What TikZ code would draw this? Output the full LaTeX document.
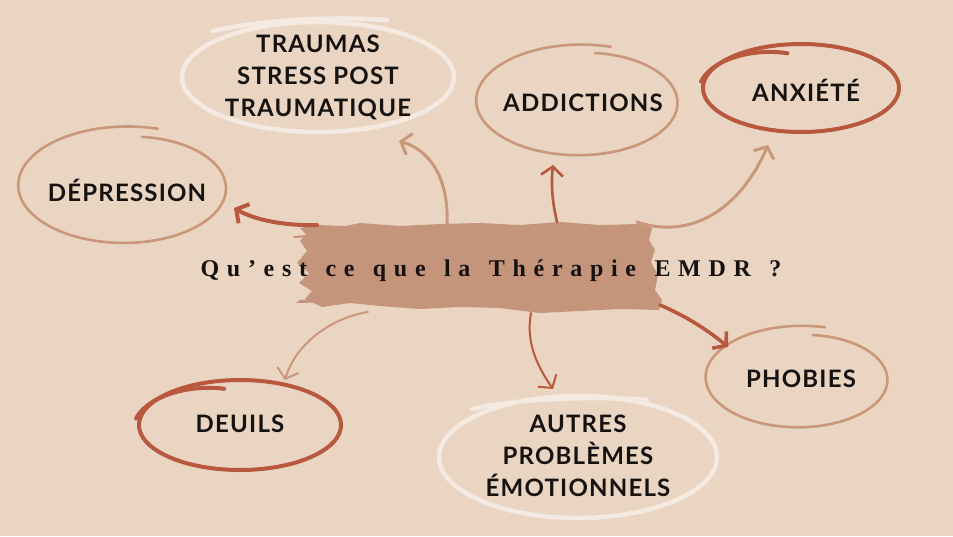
\documentclass[tikz,border=0pt]{standalone}
\usepackage{fontspec}
\setmainfont{Lato}
\newfontfamily\labelfont[LetterSpace=5]{Lato}
\newfontfamily\titlefont[LetterSpace=32, WordSpace=1.35, UprightFont={* Bold}]{Liberation Serif}
\usetikzlibrary{arrows.meta}
\definecolor{bg}{HTML}{EAD5C3}
\definecolor{brush}{HTML}{C4957A}
\definecolor{tan}{HTML}{C9977A}
\definecolor{rust}{HTML}{B8583E}
\definecolor{offw}{HTML}{F4EAE1}
\definecolor{ink}{HTML}{151210}
% cx cy rx ry start sweep devstart devend style
\newcommand\handoval[9]{%
  \draw[#9] plot[domain=0:1, samples=160, smooth, variable=\t]
  ({#1+#3*(1+(#7)*(1-\t)^3+(#8)*\t^3)*cos(#5+#6*\t)}, {#2+#4*(1+(#7)*(1-\t)^3+(#8)*\t^3)*sin(#5+#6*\t)});}
\tikzset{
  lbl/.style={font=\labelfont\bfseries\fontsize{24}{32}\selectfont, text=ink, align=center, inner sep=0pt},
  tanline/.style={draw=tan, line width=2.6pt, line cap=round},
  rustline/.style={draw=rust, line width=4pt, line cap=round},
  offline/.style={draw=offw, line width=4.5pt, line cap=round},
  arr/.style={-{Straight Barb[length=9pt,width=22pt]}, line cap=round, line join=round},
}
\begin{document}
\begin{tikzpicture}[x=1pt,y=-1pt]
\fill[bg] (0,0) rectangle (953,536);
\useasboundingbox (0,0) rectangle (953,536);
% brush
\fill[brush] (300,228) -- (318,225) -- (345,226) -- (360,223) -- (400,226) -- (440,224) -- (480,223) -- (520,225) -- (560,222) -- (600,225) -- (640,224) -- (652,228) -- (649,240) -- (655,250) -- (651,262) -- (658,275) -- (655,290) -- (662,300) -- (659,310) -- (620,309) -- (580,311) -- (540,313) -- (500,308) -- (460,307) -- (420,309) -- (380,306) -- (350,303) -- (322,307) -- (305,299) -- (312,291) -- (299,283) -- (309,273) -- (297,263) -- (307,251) -- (300,241) -- (306,234) -- cycle;
\fill[brush] (300,300) -- (340,298) -- (340,302) -- (296,303) -- cycle;
\fill[brush] (294,236) -- (320,234) -- (320,237) -- (293,238) -- cycle;
% ovals
\handoval{318}{77}{136}{55}{0}{360}{0}{0}{offline}
\draw[offline] (213,31) .. controls (260,20) and (330,16) .. (387,20);
\handoval{126}{186}{107}{58}{-80}{367}{-0.14}{0.03}{tanline}
\handoval{580}{101}{103}{55}{-80.5}{367.5}{-0.115}{0.03}{tanline}
\handoval{801}{88}{98}{44}{0}{360}{0}{0}{rustline}
\handoval{801}{88}{98}{44}{-100}{-72}{-0.2}{0.03}{rustline}
\handoval{240}{425}{101}{45}{0}{360}{0}{0}{rustline}
\handoval{240}{425}{101}{45}{-101}{-71}{-0.18}{0.04}{rustline}
\handoval{578}{457}{139}{61}{0}{360}{0}{0}{offline}
\draw[offline] (472,409) .. controls (520,398) and (600,396) .. (647,400);
\handoval{800}{378}{93}{50}{-81}{366}{-0.13}{0.05}{tanline}
% labels
\node[lbl] (trau) at (318,77) {TRAUMAS\\STRESS POST\\TRAUMATIQUE};
\node[lbl] (dep) at (127,190) {DÉPRESSION};
\node[lbl] (add) at (583,103) {ADDICTIONS};
\node[lbl] (anx) at (806,90) {ANXIÉTÉ};
\node[lbl] (deu) at (240,424) {DEUILS};
\node[lbl] (aut) at (578,456) {AUTRES\\PROBLÈMES\\ÉMOTIONNELS};
\node[lbl] (pho) at (801,379) {PHOBIES};
\node[font=\titlefont\fontsize{24}{28}\selectfont, text=ink, inner sep=0pt] (title) at (491,271) {Qu’est ce que la Thérapie EMDR ?};
% connector endpoints
\coordinate (s1) at (317,225); \coordinate (e1) at (234,208);
\coordinate (s2) at (447,226); \coordinate (e2) at (399,141);
\coordinate (s3) at (557,222); \coordinate (e3) at (553,165);
\coordinate (s4) at (637,222); \coordinate (e4) at (768,145);
\coordinate (s5) at (660,305); \coordinate (e5) at (728,347);
\coordinate (s6) at (531,313); \coordinate (e6) at (553,389);
\coordinate (s7) at (368,312); \coordinate (e7) at (285,380);
\draw[arr, draw=rust, line width=4pt] (s1) .. controls (285,226) and (255,220) .. (e1);
\draw[arr, draw=tan, line width=3pt] (s2) .. controls (449,185) and (435,152) .. (e2);
\draw[arr, draw=rust, line width=2.6pt] (s3) .. controls (552,200) and (551,185) .. (e3);
\draw[arr, draw=tan, line width=3pt] (s4) .. controls (690,240) and (740,210) .. (e4);
\draw[arr, draw=rust, line width=3.6pt] (s5) .. controls (690,318) and (710,332) .. (e5);
\draw[arr, draw=rust, line width=2pt] (s6) .. controls (525,345) and (540,370) .. (e6);
\draw[arr, draw=tan, line width=2pt] (s7) .. controls (330,318) and (295,345) .. (e7);
\end{tikzpicture}
\end{document}
